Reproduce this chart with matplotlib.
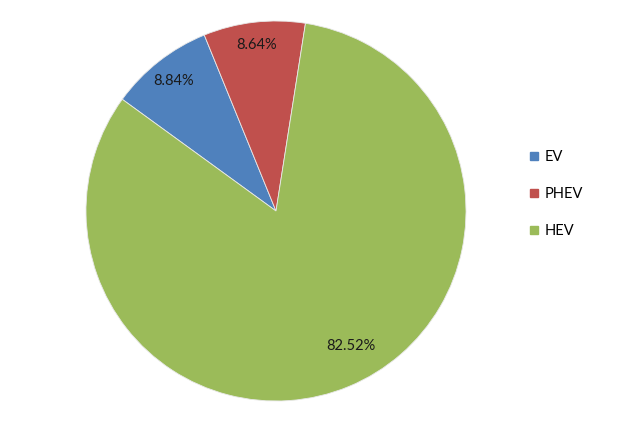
import matplotlib
matplotlib.use("Agg")
import matplotlib.pyplot as plt
import numpy as np
from matplotlib.lines import Line2D

categories = ["EV", "PHEV", "HEV"]
values = [8.84, 8.64, 82.52]
labels = ["8.84%", "8.64%", "82.52%"]
colors = ["#4F81BD", "#C0504D", "#9BBB59"]

plt.rcParams['font.family'] = ['Lato', 'DejaVu Sans']

fig = plt.figure(figsize=(6.32, 4.29), dpi=100)
ax = fig.add_axes([86/632, 28/429, 380/632, 380/429])
wedges, _ = ax.pie(values, colors=colors, startangle=144, counterclock=False,
                   wedgeprops=dict(edgecolor="#e8e8e8", linewidth=0.6))
ax.set_xlim(-1, 1)
ax.set_ylim(-1, 1)
ax.set_aspect('equal')
ax.axis('off')

label_pos = [(0.87, None), (0.88, None), (0.81, -61)]
for w, lab, (r, ang) in zip(wedges, labels, label_pos):
    a = ang if ang is not None else (w.theta1 + w.theta2) / 2
    x = r * np.cos(np.radians(a))
    y = r * np.sin(np.radians(a))
    ax.text(x, y, lab, ha='center', va='center', fontsize=10.5, color='#1a1a1a')

handles = [Line2D([], [], marker='s', linestyle='none', markersize=6,
                  markerfacecolor=c, markeredgecolor=c) for c in colors]
fig.legend(handles, categories, loc='center left', bbox_to_anchor=(524/632, 1 - 194/429),
           frameon=False, fontsize=10.5, handlelength=0.6, handletextpad=0.4,
           labelspacing=1.6, borderaxespad=0)
fig.savefig("out.png", dpi=100, facecolor='white')
